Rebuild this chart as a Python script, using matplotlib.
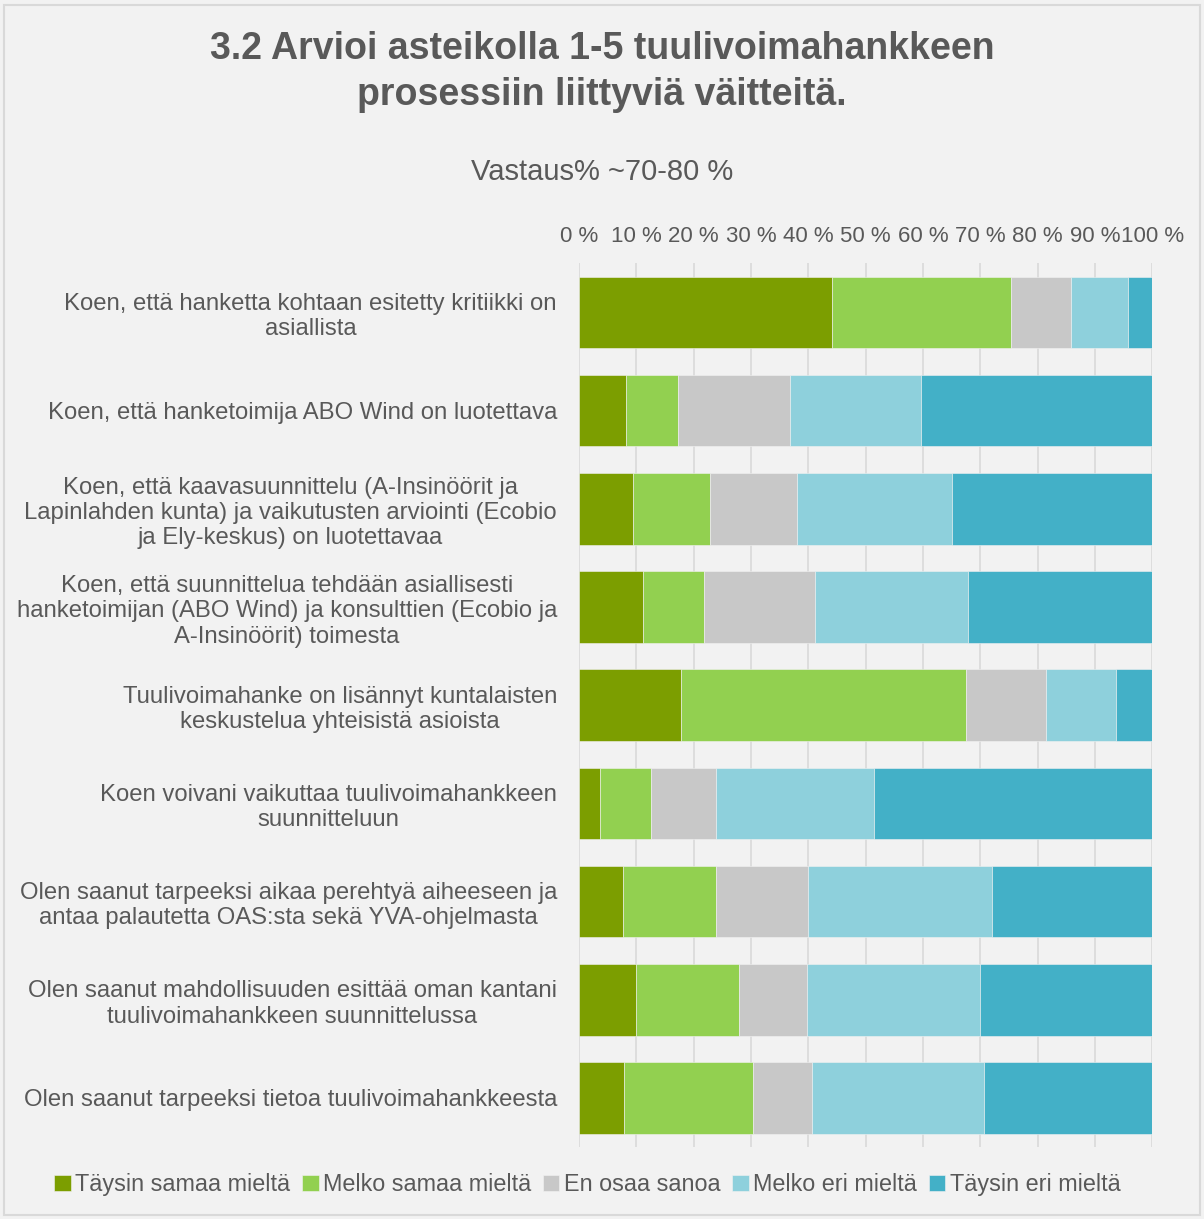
import matplotlib
matplotlib.use("Agg")
import matplotlib.pyplot as plt
from matplotlib.patches import Rectangle
import numpy as np

plt.rcParams['font.family'] = ['Liberation Sans', 'DejaVu Sans']

statements = [
    "Koen, että hanketta kohtaan esitetty kritiikki on\nasiallista",
    "Koen, että hanketoimija ABO Wind on luotettava",
    "Koen, että kaavasuunnittelu (A-Insinöörit ja\nLapinlahden kunta) ja vaikutusten arviointi (Ecobio\nja Ely-keskus) on luotettavaa",
    "Koen, että suunnittelua tehdään asiallisesti\nhanketoimijan (ABO Wind) ja konsulttien (Ecobio ja\nA-Insinöörit) toimesta",
    "Tuulivoimahanke on lisännyt kuntalaisten\nkeskustelua yhteisistä asioista",
    "Koen voivani vaikuttaa tuulivoimahankkeen\nsuunnitteluun",
    "Olen saanut tarpeeksi aikaa perehtyä aiheeseen ja\nantaa palautetta OAS:sta sekä YVA-ohjelmasta",
    "Olen saanut mahdollisuuden esittää oman kantani\ntuulivoimahankkeen suunnittelussa",
    "Olen saanut tarpeeksi tietoa tuulivoimahankkeesta",
]

series_names = ["Täysin samaa mieltä", "Melko samaa mieltä", "En osaa sanoa",
                "Melko eri mieltä", "Täysin eri mieltä"]

# percentages per statement
taysin_samaa = [44.2, 8.2, 9.4, 11.2, 17.8, 3.7, 7.7, 9.9, 7.9]
melko_samaa = [31.2, 9.1, 13.4, 10.6, 49.7, 8.9, 16.2, 18.0, 22.5]
en_osaa = [10.5, 19.5, 15.2, 19.4, 14.0, 11.2, 16.1, 11.9, 10.3]
melko_eri = [9.8, 22.9, 27.1, 26.7, 12.2, 27.7, 32.1, 30.2, 30.0]
taysin_eri = [4.3, 40.3, 34.9, 32.1, 6.3, 48.5, 27.9, 30.0, 29.3]

colors = ["#7c9e00", "#92d050", "#c8c8c8", "#8ed0dc", "#43b0c7"]

bg = "#f2f2f2"
txt = "#595959"

fig = plt.figure(figsize=(12.04, 12.19), dpi=100, facecolor=bg)
ax = fig.add_axes([0.481, 0.059, 0.476, 0.725])
ax.set_facecolor(bg)

data = [taysin_samaa, melko_samaa, en_osaa, melko_eri, taysin_eri]
y = np.arange(len(statements))
left = np.zeros(len(statements))
for vals, name, c in zip(data, series_names, colors):
    vals = np.array(vals)
    ax.barh(y, vals, left=left, height=0.73, color=c, label=name,
            edgecolor="#f2f2f2", linewidth=0.4, zorder=3)
    left += vals

ax.set_xlim(0, 100)
ax.set_ylim(len(statements) - 0.5, -0.5)
ax.set_xticks(np.arange(0, 101, 10))
ax.set_xticklabels([f"{v} %" for v in range(0, 101, 10)])
ax.xaxis.tick_top()
ax.tick_params(axis='x', length=0, labelsize=16, colors=txt, pad=12)
ax.set_yticks(y)
ax.set_yticklabels(statements, ha='right', multialignment='center')
ax.tick_params(axis='y', length=0, labelsize=17.2, colors=txt, pad=16)
ax.grid(axis='x', color="#d9d9d9", linewidth=1.2, zorder=0)
for s in ax.spines.values():
    s.set_visible(False)

fig.text(0.5, 0.941, "3.2 Arvioi asteikolla 1-5 tuulivoimahankkeen\nprosessiin liittyviä väitteitä.",
         ha='center', va='center', fontsize=27, fontweight='bold', color=txt,
         linespacing=1.33)
fig.text(0.5, 0.859, "Vastaus% ~70-80 %", ha='center', va='center', fontsize=21, color=txt)

leg = fig.legend(loc='center', bbox_to_anchor=(0.488, 0.028), ncol=5, frameon=False,
                 fontsize=16.8, handlelength=0.7, handleheight=0.7, handletextpad=0.2,
                 columnspacing=0.5)
for t in leg.get_texts():
    t.set_color(txt)

fig.patches.append(Rectangle((0.003, 0.003), 0.994, 0.993, transform=fig.transFigure,
                             fill=False, edgecolor="#d9d9d9", linewidth=1.5))

fig.savefig("out.png", dpi=100, facecolor=bg)
